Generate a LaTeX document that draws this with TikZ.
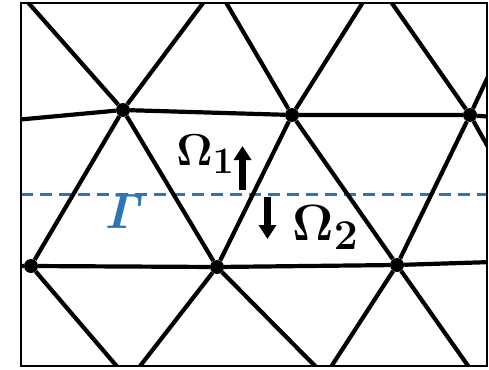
\documentclass[tikz,border=0pt]{standalone}
\usepackage{amsmath}
\usepackage{bm}
\usetikzlibrary{arrows.meta}
\definecolor{gblue}{RGB}{46,117,182}
\begin{document}
\begin{tikzpicture}[x=1pt,y=-1pt,
  edge/.style={line width=4.2pt},
  vtx/.style={circle,fill=black,inner sep=0pt,minimum size=14pt},
  framebox/.style={line width=2.2pt},
  gam/.style={gblue,line width=3pt,dash pattern=on 12pt off 7pt},
  barrow/.style={line width=7pt,-{Triangle[width=17pt,length=14pt]}},
  lab/.style={inner sep=0pt,anchor=base west,font=\Huge}]
\useasboundingbox (0,0) rectangle (489,369);
\begin{scope}
\clip (21,3) rectangle (487,366);
\node[vtx] (A) at (123,110) {};
\node[vtx] (B) at (292,115) {};
\node[vtx] (C) at (470,115) {};
\node[vtx] (D) at (31,266) {};
\node[vtx] (E) at (217,267) {};
\node[vtx] (F) at (397,265) {};
\coordinate (L1) at (15,120);
\coordinate (T1) at (25,-1);
\coordinate (T2) at (206,-1);
\coordinate (T3) at (224,-1);
\coordinate (T4) at (365,-1);
\coordinate (T5) at (389,-1);
\coordinate (R1) at (492,68);
\coordinate (R2) at (492,117);
\coordinate (R3) at (492,154);
\coordinate (R4) at (492,262);
\coordinate (Q1) at (120,370);
\coordinate (Q2) at (137,370);
\coordinate (Q3) at (319,370);
\coordinate (Q4) at (329,370);
\coordinate (Q5) at (471,370);
\coordinate (DL) at (15,266);
\coordinate (GL) at (21,194);
\coordinate (GR) at (487,194);
\draw[gam] (GL) -- (GR);
\draw[edge] (L1) -- (A) -- (B) -- (C) -- (R2);
\draw[edge] (DL) -- (D) -- (E) -- (F) -- (R4);
\draw[edge] (T1) -- (A) -- (T2);
\draw[edge] (T3) -- (B) -- (T4);
\draw[edge] (T5) -- (C) -- (R1);
\draw[edge] (D) -- (A) -- (E) -- (B) -- (F) -- (C) -- (R3);
\draw[edge] (Q1) -- (D);
\draw[edge] (Q2) -- (E) -- (Q3);
\draw[edge] (Q4) -- (F) -- (Q5);
\end{scope}
\draw[framebox] (21,3) rectangle (487,366);
\node[lab,scale=1.8] (om1) at (176,165) {$\bm{\Omega}_{\bm{1}}$};
\node[lab,scale=2.05] (om2) at (292,240) {$\bm{\Omega}_{\bm{2}}$};
\node[lab,scale=2.0,text=gblue] (gm) at (104,228) {$\bm{\mathit{\Gamma}}$};
\coordinate (u1) at (242.5,190);
\coordinate (u2) at (242.5,146);
\coordinate (d1) at (267.5,197);
\coordinate (d2) at (267.5,239);
\draw[barrow] (u1) -- (u2);
\draw[barrow] (d1) -- (d2);
\end{tikzpicture}
\end{document}
